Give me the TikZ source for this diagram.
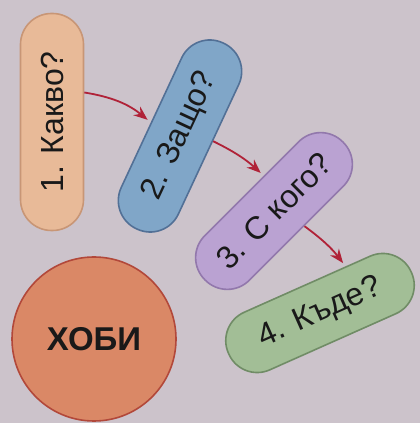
\documentclass[tikz,border=0pt]{standalone}
\usepackage{fontspec}
\setmainfont{Liberation Sans}
\usepackage{xcolor}
\usepackage{tikz}
\usetikzlibrary{arrows,arrows.meta,calc,positioning}

\definecolor{bgpaper}{RGB}{204,195,203}
\definecolor{peach}{RGB}{232,186,152}
\definecolor{peachline}{RGB}{200,150,118}
\definecolor{skyblue}{RGB}{128,166,200}
\definecolor{skyline}{RGB}{82,112,150}
\definecolor{lilac}{RGB}{186,162,210}
\definecolor{lilacline}{RGB}{146,120,172}
\definecolor{sage}{RGB}{162,190,150}
\definecolor{sageline}{RGB}{112,140,102}
\definecolor{hobbyfill}{RGB}{218,136,102}
\definecolor{hobbyline}{RGB}{178,72,58}
\definecolor{arrowred}{RGB}{176,34,56}

\begin{document}
\begin{tikzpicture}[x=1pt, y=1pt]
    % Styles
    \tikzstyle{question} = [rectangle, draw, line width=1.6pt, rounded corners=31pt, minimum height=63pt, text centered, text=black!90, font=\fontsize{32}{37}\selectfont]
    \tikzstyle{hobby} = [circle, draw=hobbyline, fill=hobbyfill, line width=1.6pt, minimum size=164pt, text=black!90, font=\fontsize{33}{38}\selectfont\bfseries]
    \tikzstyle{arrow} = [line width=1.8pt, draw=arrowred, ->, >={Stealth[length=14pt,width=11pt]}, shorten >=4pt]

    % Background
    \fill[bgpaper] (0,0) rectangle (420,423);
    \useasboundingbox (0,0) rectangle (420,423);

    % Nodes
    \node [question, fill=peach, draw=peachline, minimum width=217pt, rotate=90] (kakvo) at (52,301) {1. Какво?};
    \node [question, fill=skyblue, draw=skyline, minimum width=205pt, rotate=65] (zashto) at (180,287) {2. Защо?};
    \node [question, fill=lilac, draw=lilacline, minimum width=195pt, rotate=45] (skogo) at (274,212) {3. С кого?};
    \node [question, fill=sage, draw=sageline, minimum width=200pt, rotate=24] (kade) at (320,110) {4. Къде?};
    \node [hobby] (hobi) at (94,84) {ХОБИ};

    % Connections
    \draw[arrow] ($(kakvo.south)!0.27!(kakvo.south east)$) to[bend left=15] (zashto.north);
    \draw[arrow] ($(zashto.south)!0.09!(zashto.south east)$) to[bend left=8] ($(skogo.north)!0.18!(skogo.north east)$);
    \draw[arrow] ($(skogo.south)!0.11!(skogo.south east)$) to[bend left=8] ($(kade.north)!0.42!(kade.north east)$);
\end{tikzpicture}
\end{document}
